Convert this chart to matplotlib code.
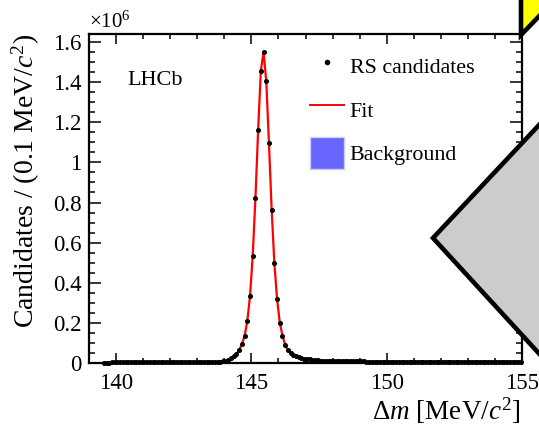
import numpy as np
import matplotlib
matplotlib.use('Agg')
import matplotlib.pyplot as plt
from matplotlib.patches import Polygon, Patch
from matplotlib.lines import Line2D
from matplotlib.ticker import MultipleLocator, FuncFormatter

plt.rcParams['font.family'] = 'Liberation Serif'
plt.rcParams['mathtext.fontset'] = 'custom'
plt.rcParams['mathtext.rm'] = 'Liberation Serif'
plt.rcParams['mathtext.it'] = 'Liberation Serif:italic'

# bin centres, 0.1 MeV wide, starting at the pi threshold
bin_start = 139.55
bin_width = 0.1

# RS candidates per bin (x 10^6)
candidates = [
    0.001, 0.002, 0.002, 0.003, 0.003, 0.003, 0.003, 0.004, 0.004, 0.004,
    0.004, 0.004, 0.004, 0.004, 0.004, 0.004, 0.004, 0.004, 0.004, 0.004,
    0.004, 0.004, 0.004, 0.004, 0.004, 0.004, 0.004, 0.005, 0.005, 0.005,
    0.005, 0.005, 0.005, 0.005, 0.005, 0.005, 0.005, 0.005, 0.006, 0.006,
    0.006, 0.006,
    0.006, 0.007, 0.009, 0.012, 0.017, 0.024, 0.033, 0.045, 0.065, 0.093,
    0.136, 0.209, 0.334, 0.535, 0.821, 1.163, 1.456, 1.552, 1.404, 1.095,
    0.763, 0.497, 0.318, 0.201, 0.136, 0.090, 0.065, 0.050, 0.040, 0.034,
    0.029, 0.025, 0.022, 0.020, 0.018, 0.016, 0.014, 0.013, 0.012, 0.011,
    0.010,
    0.010, 0.009, 0.009, 0.009, 0.009, 0.008, 0.008, 0.008, 0.008, 0.008,
    0.008, 0.008, 0.008, 0.008, 0.007, 0.007, 0.007, 0.007, 0.007, 0.007,
    0.007, 0.007, 0.007, 0.007, 0.007, 0.007, 0.007, 0.007, 0.007, 0.007,
    0.007, 0.007, 0.007, 0.007, 0.007, 0.007, 0.007, 0.007, 0.007, 0.007,
    0.007, 0.007, 0.007, 0.007, 0.007, 0.007, 0.007, 0.007, 0.007, 0.007,
    0.007, 0.007, 0.007, 0.007, 0.007, 0.007, 0.007, 0.007, 0.007, 0.007,
    0.007, 0.007, 0.007, 0.007, 0.007, 0.007, 0.007, 0.007, 0.007, 0.007,
    0.007, 0.007,
]
# fit follows the data
fit = candidates
# background component, tiny
background = [0.0] + [0.001] * 20 + [0.0015] * 60 + [0.002] * 74

mass = bin_start + bin_width * np.arange(len(candidates))

fig = plt.figure(figsize=(5.39, 4.25), dpi=100)
ax = fig.add_axes([89/539, 1-363/425, 433/539, 329/425])

ax.fill_between(mass, 0, background, color='#6666ff', lw=0, zorder=1)
ax.plot(mass, background, color='#1a1a66', lw=1.0, zorder=1)
ax.plot(mass, fit, color='red', lw=1.6, zorder=2)
ax.plot(mass, candidates, 'o', color='black', ms=2.6, zorder=3, clip_on=False)

ax.set_xlim(139, 155)
ax.set_ylim(0, 1.64)

ax.xaxis.set_major_locator(MultipleLocator(5))
ax.xaxis.set_minor_locator(MultipleLocator(1))
ax.yaxis.set_major_locator(MultipleLocator(0.2))
ax.yaxis.set_minor_locator(MultipleLocator(0.05))
ax.yaxis.set_major_formatter(FuncFormatter(lambda v, p: f'{v:g}'))

ax.tick_params(which='both', direction='in', top=True, right=True, labelsize=16.5, width=1.1)
ax.tick_params(axis='y', which='major', length=8.6, pad=5.3)
ax.tick_params(axis='y', which='minor', length=4.3)
ax.tick_params(axis='x', which='major', length=7.2, pad=7.5)
ax.tick_params(axis='x', which='minor', length=3.6)
for s in ax.spines.values():
    s.set_linewidth(1.6)

ax.set_ylabel(r'Candidates / (0.1 MeV/$c^2$)', fontsize=20, loc='top')
ax.yaxis.set_label_coords(-0.1085, 1.0)
ax.set_xlabel(r'$\Delta m$ [MeV/$c^2$]', fontsize=19.5, loc='right')
ax.xaxis.label.set_va('bottom')
ax.xaxis.set_label_coords(0.996, -0.19)

ax.text(0.0, 1.005, r'$\times$10$^6$', transform=ax.transAxes, fontsize=15, ha='left', va='bottom')
ax.text(0.088, 0.86, 'LHCb', transform=ax.transAxes, fontsize=16, ha='left', va='center')

handles = [Line2D([], [], ls='none', marker='o', color='black', ms=3),
           Line2D([], [], color='red', lw=1.4),
           Patch(facecolor='#6666ff', edgecolor='#ccccff')]
ax.legend(handles, ['RS candidates', 'Fit', 'Background'], loc='upper left',
          bbox_to_anchor=(0.510, 0.951), frameon=False, fontsize=15.8,
          handlelength=1.55, handleheight=1.867, handletextpad=0.27,
          labelspacing=0.52, borderpad=0, borderaxespad=0)

# overlay shapes on the right edge
def px(x, y):
    return (x/539, 1 - y/425)

gray = Polygon([px(433, 238), px(600, 60), px(767, 238), px(600, 420)],
               closed=True, facecolor='#cccccc', edgecolor='black', lw=3.3,
               transform=fig.transFigure, zorder=10)
fig.add_artist(gray)
yellow = Polygon([px(521, -20), px(521, 35), px(570, -16)], closed=True,
                 facecolor='#ffff00', edgecolor='black', lw=3.3,
                 transform=fig.transFigure, zorder=10)
fig.add_artist(yellow)

fig.savefig('out.png', dpi=100)
